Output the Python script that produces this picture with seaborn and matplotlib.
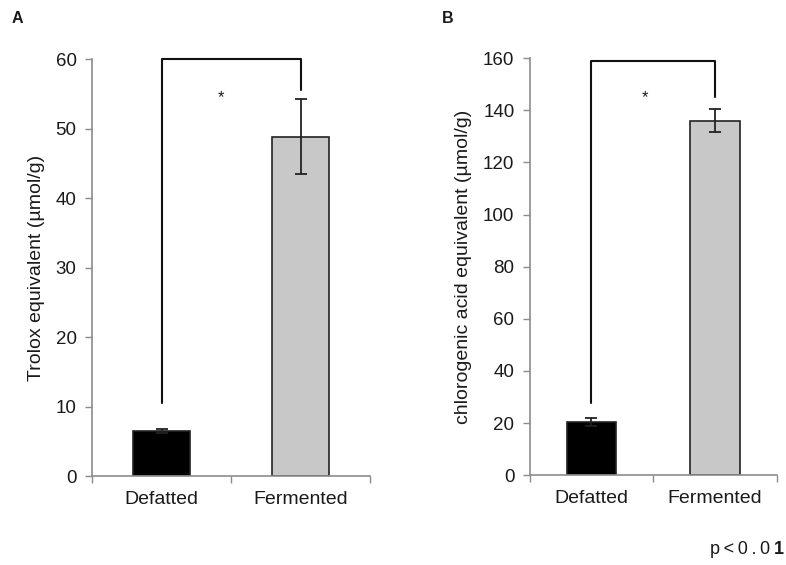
import pandas as pd
import seaborn as sns
import matplotlib.pyplot as plt

# data
categories = ["Defatted", "Fermented"]
trolox_mean = [6.5, 48.8]
trolox_err = [0.3, 5.4]
chlorogenic_mean = [20.5, 136.0]
chlorogenic_err = [1.5, 4.5]

sns.set_theme(style="white")
plt.rcParams["font.family"] = ["Liberation Sans", "DejaVu Sans"]

bar_colors = ["#000000", "#c8c8c8"]
spine_grey = "#8c8c8c"
text_col = "#1a1a1a"


def draw_panel(ax, means, errs, ymax, ystep, ylabel, bracket, width):
    df = pd.DataFrame({"group": categories, "value": means})
    sns.barplot(data=df, x="group", y="value", hue="group", palette=bar_colors,
                width=width, edgecolor="#222222", linewidth=1.2, legend=False, ax=ax)
    ax.errorbar([0, 1], means, yerr=errs, fmt="none", ecolor="#222222",
                elinewidth=1.3, capsize=4, capthick=1.3)

    # significance bracket
    top, left_end, right_end, star_y = bracket
    ax.plot([0, 0, 1, 1], [left_end, top, top, right_end], color="#111111",
            lw=1.5, clip_on=False)
    ax.text(0.43, star_y, "*", ha="center", va="center", fontsize=12, color=text_col)

    ax.set_xlim(-0.5, 1.5)
    ax.set_ylim(0, ymax)
    ax.set_yticks(range(0, ymax + 1, ystep))
    ax.set_xticks([-0.5, 0.5, 1.5], minor=False)
    ax.set_xticklabels([])
    ax.set_xticks([0, 1], minor=True)
    ax.set_xticklabels(categories, minor=True, fontsize=14, color=text_col)
    ax.tick_params(axis="x", which="minor", length=0, pad=11)
    ax.tick_params(axis="x", which="major", length=5, width=1, color=spine_grey,
                   direction="out", bottom=True)
    ax.tick_params(axis="y", length=5, width=1, color=spine_grey, direction="out",
                   left=True, labelsize=13.5, labelcolor=text_col, pad=6)
    for s in ["top", "right"]:
        ax.spines[s].set_visible(False)
    for s in ["left", "bottom"]:
        ax.spines[s].set_color(spine_grey)
        ax.spines[s].set_linewidth(1.2)
    ax.set_xlabel("")
    ax.set_ylabel(ylabel, fontsize=14, labelpad=8, color=text_col)


fig = plt.figure(figsize=(7.86, 5.65), dpi=100)
ax_a = fig.add_axes([0.117, 0.1575, 0.354, 0.738])
ax_b = fig.add_axes([0.674, 0.159, 0.314, 0.738])

draw_panel(ax_a, trolox_mean, trolox_err, 60, 10, "Trolox equivalent (\u00b5mol/g)",
           (60, 10.5, 55.5, 54.4), 0.41)
draw_panel(ax_b, chlorogenic_mean, chlorogenic_err, 160, 20,
           "chlorogenic acid equivalent (\u00b5mol/g)", (159, 27.5, 145, 144.7), 0.40)

fig.text(0.015, 0.967, "A", fontsize=11.5, fontweight="bold", va="center", color=text_col)
fig.text(0.562, 0.968, "B", fontsize=11.5, fontweight="bold", va="center", color=text_col)
fig.text(0.985, 0.027, "p\u2009<\u20090\u2009.\u20090\u2009", ha="right", va="center",
         fontsize=13, color=text_col)
fig.text(0.985, 0.027, "1", ha="left", va="center", fontsize=13, fontweight="bold",
         color=text_col)

fig.savefig("out.png", dpi=100)
plt.close(fig)
